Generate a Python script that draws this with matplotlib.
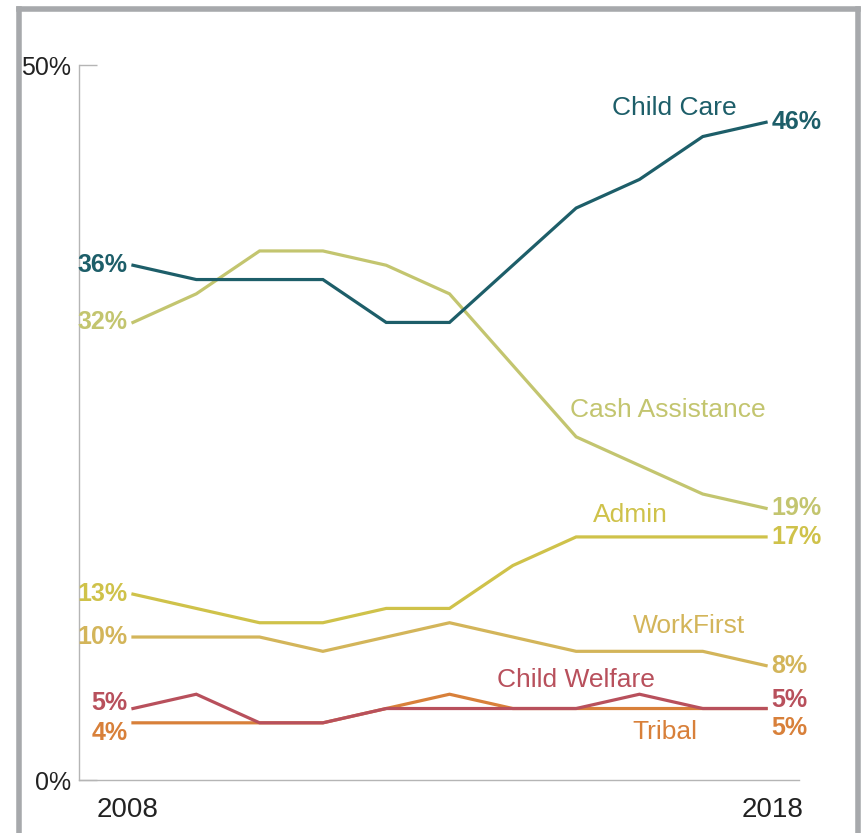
import matplotlib.pyplot as plt
import matplotlib.transforms as mtransforms
from matplotlib.lines import Line2D

plt.rcParams['font.family'] = ['Liberation Sans Narrow', 'Liberation Sans', 'DejaVu Sans']

years = list(range(2008, 2019))
child_care = [36, 35, 35, 35, 32, 32, 36, 40, 42, 45, 46]
cash_assistance = [32, 34, 37, 37, 36, 34, 29, 24, 22, 20, 19]
admin = [13, 12, 11, 11, 12, 12, 15, 17, 17, 17, 17]
workfirst = [10, 10, 10, 9, 10, 11, 10, 9, 9, 9, 8]
child_welfare = [5, 6, 4, 4, 5, 5, 5, 5, 6, 5, 5]
tribal = [4, 4, 4, 4, 5, 6, 5, 5, 5, 5, 5]

series_names = ['Tribal', 'Child Welfare', 'WorkFirst', 'Admin', 'Cash Assistance', 'Child Care']
series_values = [tribal, child_welfare, workfirst, admin, cash_assistance, child_care]
start_labels = ['4%', '5%', '10%', '13%', '32%', '36%']
end_labels = ['5%', '5%', '8%', '17%', '19%', '46%']

colors = {
    'Child Care': '#1d5e69',
    'Cash Assistance': '#c3c56f',
    'Admin': '#cfc24a',
    'WorkFirst': '#d3b55a',
    'Child Welfare': '#b8505c',
    'Tribal': '#d8803a',
}
# where each series name sits (data coords)
name_pos = {
    'Child Care': (2016.55, 47.0),
    'Cash Assistance': (2016.45, 25.9),
    'Admin': (2015.85, 18.5),
    'WorkFirst': (2016.78, 10.8),
    'Child Welfare': (2015.0, 7.0),
    'Tribal': (2016.4, 3.35),
}
# vertical nudges (points) for value labels that would collide
start_nudge = {'Child Welfare': 4, 'Tribal': -7}
end_nudge = {'Child Welfare': 6, 'Tribal': -14}

fig = plt.figure(figsize=(8.62, 8.33), dpi=100)
fig.patch.set_facecolor('white')

# grey frame round the panel
frame = '#a7a9ac'
fig.add_artist(Line2D([0.0226, 0.0226], [0, 0.9886], color=frame, lw=4, transform=fig.transFigure))
fig.add_artist(Line2D([0.0226, 0.9948], [0.9886, 0.9886], color=frame, lw=4, transform=fig.transFigure))
fig.add_artist(Line2D([0.9948, 0.9948], [0, 0.9886], color=frame, lw=4, transform=fig.transFigure))

ax = fig.add_axes([0.0916, 0.0636, 0.8353, 0.8583])
ax.set_xlim(2007.147, 2018.52)
ax.set_ylim(0, 50)

for name, vals, s_lab, e_lab in zip(series_names, series_values, start_labels, end_labels):
    c = colors[name]
    ax.plot(years, vals, color=c, lw=2.3, solid_joinstyle='miter', zorder=3)
    ax.annotate(s_lab, (years[0], vals[0]), xytext=(-4, start_nudge.get(name, 0)),
                textcoords='offset points', ha='right', va='center', color=c,
                fontsize=18, fontweight='bold')
    ax.annotate(e_lab, (years[-1], vals[-1]), xytext=(4, end_nudge.get(name, 0)),
                textcoords='offset points', ha='left', va='center', color=c,
                fontsize=18, fontweight='bold')
    nx, ny = name_pos[name]
    ax.text(nx, ny, name, ha='center', va='center', color=c, fontsize=19)

for side in ['top', 'right']:
    ax.spines[side].set_visible(False)
for side in ['left', 'bottom']:
    ax.spines[side].set_color('#b5b5b5')
    ax.spines[side].set_linewidth(1.0)

ax.set_yticks([0, 50])
ax.set_yticklabels(['0%', '50%'], fontsize=18, color='#222222')
ax.tick_params(axis='y', direction='in', length=13, width=1.0, color='#b5b5b5', pad=6)
ax.set_xticks([2008, 2018])
ax.set_xticklabels(['2008', '2018'], fontsize=20, color='#222222')
ax.tick_params(axis='x', length=0, pad=12)

# year labels sit slightly off their ticks
for lab, dx in zip(ax.get_xticklabels(), [-5, 6]):
    lab.set_transform(lab.get_transform() + mtransforms.ScaledTranslation(dx / 100, 0, fig.dpi_scale_trans))

fig.savefig('out.png', dpi=100)
